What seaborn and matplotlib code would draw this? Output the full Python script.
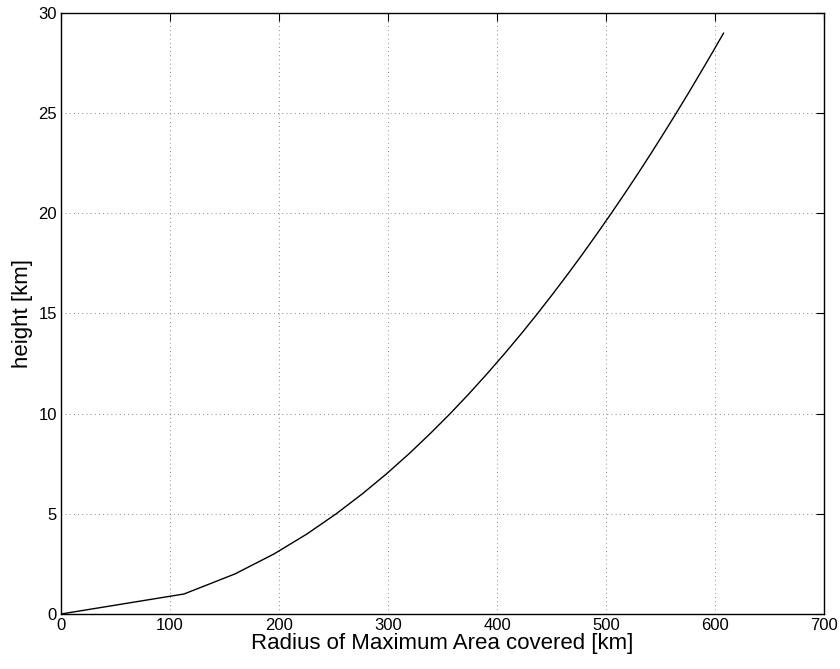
import matplotlib
matplotlib.use("Agg")
import matplotlib.pyplot as plt
import seaborn as sns
import pandas as pd

height_km = [0, 1, 2, 3, 4, 5, 6, 7, 8, 9, 10, 11, 12, 13, 14, 15, 16, 17, 18, 19,
             20, 21, 22, 23, 24, 25, 26, 27, 28, 29]
radius_km = [0, 112.9, 159.6, 195.5, 225.8, 252.4, 276.5, 298.7, 319.3, 338.6,
             357.0, 374.4, 391.0, 407.0, 422.4, 437.2, 451.5, 465.4, 478.9, 492.0,
             504.8, 517.3, 529.5, 541.4, 553.0, 564.4, 575.6, 586.5, 597.3, 607.9]
x_ticks = [0, 100, 200, 300, 400, 500, 600, 700]
y_ticks = [0, 5, 10, 15, 20, 25, 30]

sns.set_theme(style="white")
plt.rcParams['font.family'] = ['Liberation Sans', 'DejaVu Sans']

df = pd.DataFrame({"radius": radius_km, "height": height_km})

fig = plt.figure(figsize=(8.4, 6.69), dpi=100)
ax = fig.add_axes([0.0726, 0.0822, 0.9084, 0.8984])
sns.lineplot(data=df, x="radius", y="height", ax=ax, color="black", lw=1.0,
             sort=False, estimator=None)

ax.set_xlim(0, 700)
ax.set_ylim(0, 30)
ax.set_xticks(x_ticks)
ax.set_yticks(y_ticks)
ax.grid(True, color="black", linestyle=(0, (1, 4)), linewidth=0.6, alpha=0.6)
for s in ax.spines.values():
    s.set_color("black")
    s.set_linewidth(1.0)
ax.tick_params(direction="in", length=6, width=0.8, top=True, right=True,
               labelsize=12, colors="black", pad=3)
ax.set_xlabel("Radius of Maximum Area covered [km]", fontsize=16, labelpad=0,
              color="black")
ax.set_ylabel("height [km]", fontsize=16, labelpad=4, color="black")

fig.savefig("out.png", dpi=100, facecolor="white")
